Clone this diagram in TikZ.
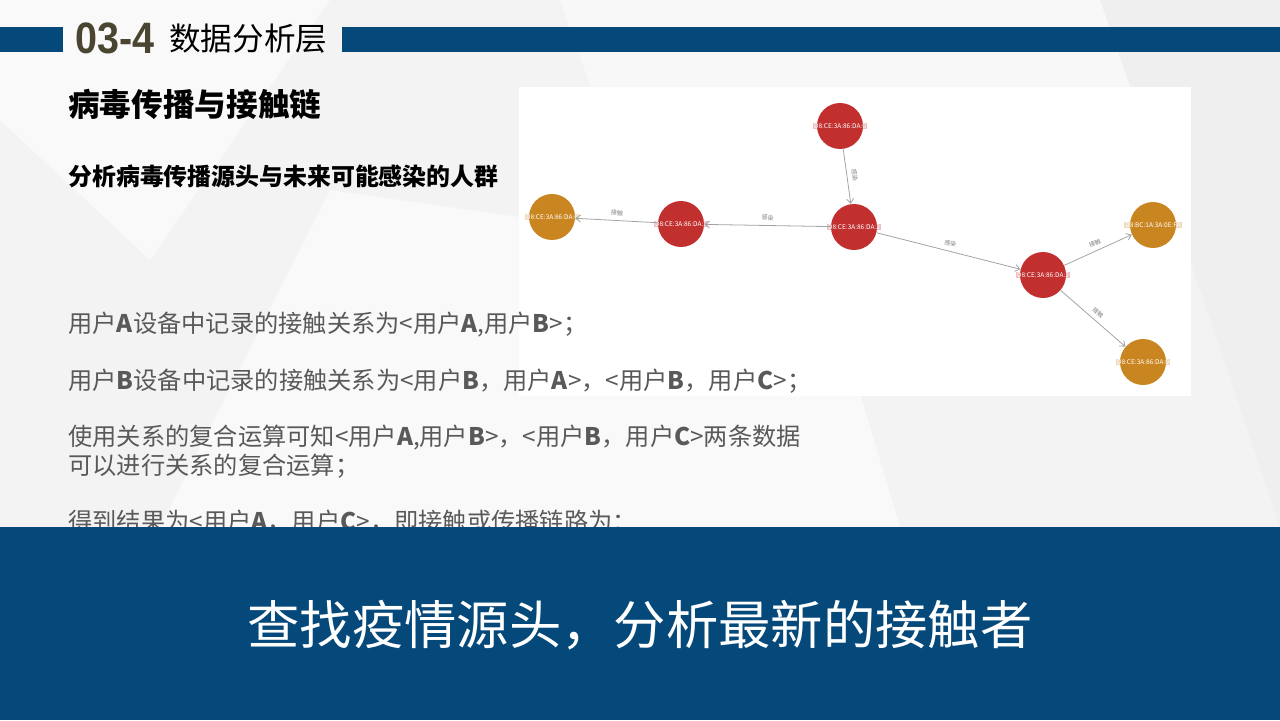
\documentclass[tikz,border=0pt]{standalone}
\usepackage{fontspec}
\usepackage{graphicx}
\setmainfont{Noto Sans CJK SC}
\newfontfamily\numfont{Liberation Sans}
\usetikzlibrary{arrows.meta}

\definecolor{barblue}{HTML}{05497A}
\definecolor{numbrown}{HTML}{4A4530}
\definecolor{infred}{HTML}{C1302F}
\definecolor{conorange}{HTML}{C9851F}
\definecolor{edgegray}{HTML}{A3A3A3}
\definecolor{textgray}{HTML}{595959}
\definecolor{bggray}{HTML}{F3F3F3}

\begin{document}
\begin{tikzpicture}[x=0.02cm, y=-0.02cm,
        every node/.style={inner sep=0pt},
        addrbox/.style={inner sep=0.5pt, fill opacity=0.3, text opacity=1, text=white, font=\fontsize{3.7}{4}\selectfont},
        infected/.style={circle, fill=infred, minimum size=0.92cm, label={[addrbox, fill=infred]center:#1}},
        contact/.style={circle, fill=conorange, minimum size=0.92cm, label={[addrbox, fill=conorange]center:#1}},
        link/.style={draw=edgegray, line width=0.45pt, -{Straight Barb[length=2.6pt,width=4pt]}},
        linklabel/.style={midway, sloped, above=2.6pt, text=gray, font=\fontsize{3.4}{4}\selectfont}]
    \tikzstyle{bodyline}=[anchor=west, text=textgray, font=\fontsize{13.8}{16}\selectfont]
    \useasboundingbox (0,0) rectangle (1280,720);

    % Background
    \fill[bggray] (0,0) rectangle (1280,720);
    \fill[white, opacity=0.5] (0,0) -- (330,0) -- (150,260) -- (0,120) -- cycle;
    \fill[white, opacity=0.45] (560,0) -- (1100,0) -- (1190,260) -- (620,170) -- cycle;
    \fill[white, opacity=0.5] (330,190) -- (820,260) -- (900,527) -- (160,527) -- cycle;
    \fill[black, opacity=0.015] (1100,0) -- (1280,0) -- (1280,527) -- (1190,260) -- cycle;

    % Header bar
    \fill[barblue] (0,27) rectangle (63,52);
    \fill[barblue] (342,27) rectangle (1280,52);
    \node[anchor=base, text=numbrown, font=\numfont\bfseries\fontsize{25}{25}\selectfont] (secnum) at (115,53) {\scalebox{0.9}[1]{03-4}};
    \node[anchor=west, font=\fontsize{18}{20}\selectfont] (sectitle) at (169,39) {数据分析层};

    % Headings
    \node[anchor=west, font=\bfseries\fontsize{18}{20}\selectfont] (heading) at (68,104) {病毒传播与接触链};
    \node[anchor=west, font=\bfseries\fontsize{13.6}{16}\selectfont] (subheading) at (68,176) {分析病毒传播源头与未来可能感染的人群};

    % Graph panel
    \fill[white] (519,87) rectangle (1191,396);

    % Infected persons
    \node[infected={D8:CE:3A:86:DA:0}] (inf1) at (840,126) {};
    \node[infected={D8:CE:3A:86:DA:2}] (inf2) at (854,227) {};
    \node[infected={D8:CE:3A:86:DA:2}] (inf3) at (681,224) {};
    \node[infected={D8:CE:3A:86:DA:2}] (inf4) at (1043,275) {};
    % Contacts
    \node[contact={D8:CE:3A:86:DA:0}] (con1) at (552,217) {};
    \node[contact={D8:BC:1A:3A:0E:FA}] (con2) at (1153,225) {};
    \node[contact={D8:CE:3A:86:DA:0}] (con3) at (1143,362) {};

    % Links
    \draw[link] (inf1) -- (inf2) node[linklabel] {感染};
    \draw[link] (inf2) -- (inf3) node[linklabel] {感染};
    \draw[link] (inf3) -- (con1) node[linklabel] {接触};
    \draw[link] (inf2) -- (inf4) node[linklabel] {感染};
    \draw[link] (inf4) -- (con2) node[linklabel] {接触};
    \draw[link] (inf4) -- (con3) node[linklabel] {接触};

    % Body text
    \node[bodyline] (line1) at (68,325) {用户\textbf{A}设备中记录的接触关系为<用户\textbf{A},用户\textbf{B}>；};
    \node[bodyline] (line2) at (68,381) {用户\textbf{B}设备中记录的接触关系为<用户\textbf{B}，用户\textbf{A}>，<用户\textbf{B}，用户\textbf{C}>；};
    \node[bodyline] (line3) at (68,438) {使用关系的复合运算可知<用户\textbf{A},用户\textbf{B}>，<用户\textbf{B}，用户\textbf{C}>两条数据};
    \node[bodyline] (line4) at (68,466) {可以进行关系的复合运算；};
    \node[bodyline] (line5) at (68,522) {得到结果为<用户\textbf{A}，用户\textbf{C}>，即接触或传播链路为：};

    % Conclusion box
    \fill[barblue] (0,527) rectangle (1280,720);
    \node[text=white, font=\fontsize{29.8}{32}\selectfont] (conclusion) at (640,625) {查找疫情源头，分析最新的接触者};
\end{tikzpicture}
\end{document}
